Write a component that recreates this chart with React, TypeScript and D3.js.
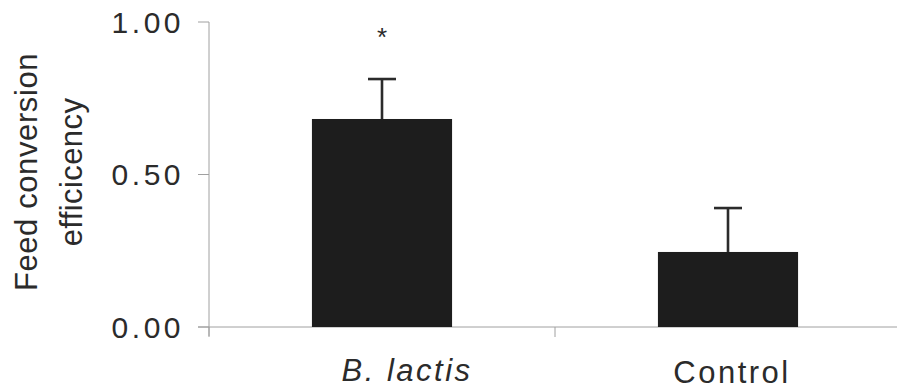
import * as d3 from "d3";

const categories = ["B. lactis", "Control"];
const means = [0.682, 0.246];
const errors = [0.131, 0.144];
const yTicks = [0, 0.5, 1];
const significance = ["*", ""];

const W = 897;
const H = 390;
const INK = "#2b2b2b";
const AXIS = "#a0a0a0";
const FONT = "'Liberation Sans', Arial, sans-serif";

export default function App() {
  const y = d3.scaleLinear().domain([0, 1]).range([327, 22]);
  const x = d3.scaleBand<string>().domain(categories).range([209, 901]);
  const bw = x.bandwidth() * 0.405;
  const cap = 14;

  const boundaries = [209, ...categories.map((c) => (x(c) ?? 0) + x.bandwidth())];

  return (
    <svg
      width={W}
      height={H}
      style={{ position: "absolute", left: 0, top: 0, background: "#fff" }}
      fontFamily={FONT}
    >
      {/* y axis */}
      <line x1={209} x2={209} y1={y(1)} y2={336} stroke={AXIS} strokeWidth={1} />
      {yTicks.map((t) => (
        <g key={t}>
          <line x1={198} x2={209} y1={y(t)} y2={y(t)} stroke={AXIS} strokeWidth={1} />
          <text
            x={184}
            y={y(t)}
            dy="0.36em"
            textAnchor="end"
            fontSize={30}
            letterSpacing={3.5}
            fill={INK}
          >
            {t.toFixed(2)}
          </text>
        </g>
      ))}

      {/* x axis */}
      <line x1={198} x2={W} y1={y(0)} y2={y(0)} stroke={AXIS} strokeWidth={1} />
      {boundaries.map((b) => (
        <line key={b} x1={b} x2={b} y1={y(0)} y2={337} stroke={AXIS} strokeWidth={1} />
      ))}

      {/* bars */}
      {categories.map((c, i) => {
        const cx = (x(c) ?? 0) + x.bandwidth() / 2;
        const top = y(means[i]);
        const errTop = y(means[i] + errors[i]);
        return (
          <g key={c}>
            <line x1={cx} x2={cx} y1={top} y2={errTop} stroke={INK} strokeWidth={2.6} />
            <line
              x1={cx - cap}
              x2={cx + cap}
              y1={errTop}
              y2={errTop}
              stroke={INK}
              strokeWidth={2.6}
            />
            <rect
              x={cx - bw / 2}
              y={top}
              width={bw}
              height={y(0) - top}
              fill="#1d1d1d"
            />
            {significance[i] && (
              <text x={cx} y={errTop - 33} textAnchor="middle" fontSize={26} fill={INK}>
                {significance[i]}
              </text>
            )}
            <text
              x={i === 0 ? cx + 25 : cx + 4}
              y={i === 0 ? 381 : 383}
              textAnchor="middle"
              fontSize={31}
              letterSpacing={2.5}
              fontStyle={i === 0 ? "italic" : "normal"}
              fill={INK}
            >
              {c}
            </text>
          </g>
        );
      })}

      {/* y title */}
      <g transform="translate(37,172) rotate(-90)">
        <text textAnchor="middle" fontSize={31} letterSpacing={0.6} fill={INK}>
          Feed conversion
        </text>
        <text y={45} textAnchor="middle" fontSize={31} letterSpacing={0.4} fill={INK}>
          efficicency
        </text>
      </g>
    </svg>
  );
}
